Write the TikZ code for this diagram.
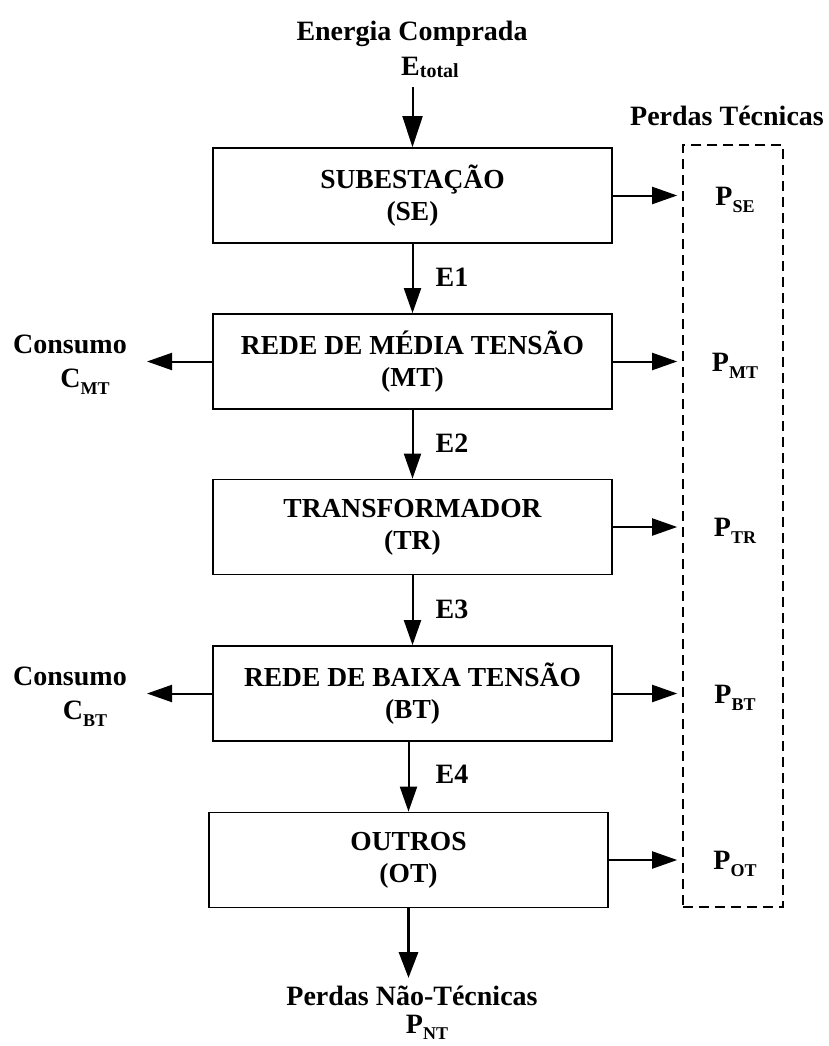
\documentclass[tikz,border=0pt]{standalone}
\usepackage{fontspec}
\setmainfont{Liberation Serif}
\usetikzlibrary{arrows.meta}

% lowered subscript for the loss / consumption symbols
\newcommand{\lowsub}[1]{\raisebox{-7.5pt}{\fontsize{18}{18}\selectfont #1}}

\begin{document}
\begin{tikzpicture}[x=1pt,y=-1pt,
  block/.style={draw, line width=1.7pt, minimum width=399pt, minimum height=95pt,
    align=center, inner sep=0pt, font=\bfseries\fontsize{27.5}{32}\selectfont},
  lbl/.style={inner sep=0pt, anchor=base, font=\bfseries\fontsize{28}{32}\selectfont},
  flow/.style={line width=2pt, -{Triangle[length=25pt,width=17pt]}},
  bigflow/.style={line width=3.2pt, -{Triangle[length=26pt,width=19pt]}},
  lossbox/.style={draw, line width=1.6pt, dash pattern=on 10pt off 6pt,
    minimum width=100pt, minimum height=762pt, inner sep=0pt}
]
\useasboundingbox (0,0) rectangle (828,1046);

% chain of blocks
\node[block] (SE) at (412.5,195.5) {SUBESTAÇÃO\\(SE)};
\node[block] (MT) at (412.5,361.5) {REDE DE MÉDIA TENSÃO\\(MT)};
\node[block] (TR) at (412.5,527)   {TRANSFORMADOR\\(TR)};
\node[block] (BT) at (412.5,693.5) {REDE DE BAIXA TENSÃO\\(BT)};
\node[block] (OT) at (408.5,860)   {OUTROS\\(OT)};

% technical losses frame
\node[lossbox] (tech) at (733,526) {};
\node[lbl] (techt) at (727,125) {Perdas Técnicas};

% purchased energy input
\node[lbl] (ein) at (412,41) {Energia Comprada};
\node[lbl] (etot) at (430,76) {E\raisebox{-1.5pt}{\fontsize{20}{20}\selectfont total}};
\coordinate (einst) at (412.5,87);
\draw[flow, -{Triangle[length=31pt,width=20pt]}] (einst) -- (SE.north);

% energy flow between blocks
\draw[flow] (SE.south) -- (MT.north);
\draw[flow] (MT.south) -- (TR.north);
\draw[flow] (TR.south) -- (BT.north);
\draw[flow] (OT.north |- BT.south) -- (OT.north);
\node[lbl] (e1) at (452,286) {E1};
\node[lbl] (e2) at (452,452) {E2};
\node[lbl] (e3) at (452,618) {E3};
\node[lbl] (e4) at (452,783) {E4};

% losses per block
\foreach \b in {SE, MT, TR, BT, OT}{
  \draw[flow, shorten >=5pt] (\b.east) -- (\b.east -| tech.west);
}
\node[lbl] (pSE) at (735,205) {P\lowsub{SE}};
\node[lbl] (pMT) at (735,371) {P\lowsub{MT}};
\node[lbl] (pTR) at (735,536) {P\lowsub{TR}};
\node[lbl] (pBT) at (735,703) {P\lowsub{BT}};
\node[lbl] (pOT) at (735,869) {P\lowsub{OT}};

% consumption
\coordinate (cmtend) at (147,361.5);
\coordinate (cbtend) at (147,693.5);
\draw[flow] (MT.west) -- (cmtend);
\draw[flow] (BT.west) -- (cbtend);
\node[lbl] (cmt1) at (70,353) {Consumo};
\node[lbl] (cmt2) at (85,387) {C\lowsub{MT}};
\node[lbl] (cbt1) at (70,685) {Consumo};
\node[lbl] (cbt2) at (85,719) {C\lowsub{BT}};

% non-technical losses
\coordinate (ntend) at (OT.south |- 0,978);
\draw[bigflow] (OT.south) -- (ntend);
\node[lbl] (nt1) at (412,1005) {Perdas Não-Técnicas};
\node[lbl] (nt2) at (427,1033) {P\raisebox{-6pt}{\fontsize{18}{18}\selectfont NT}};
\end{tikzpicture}
\end{document}
